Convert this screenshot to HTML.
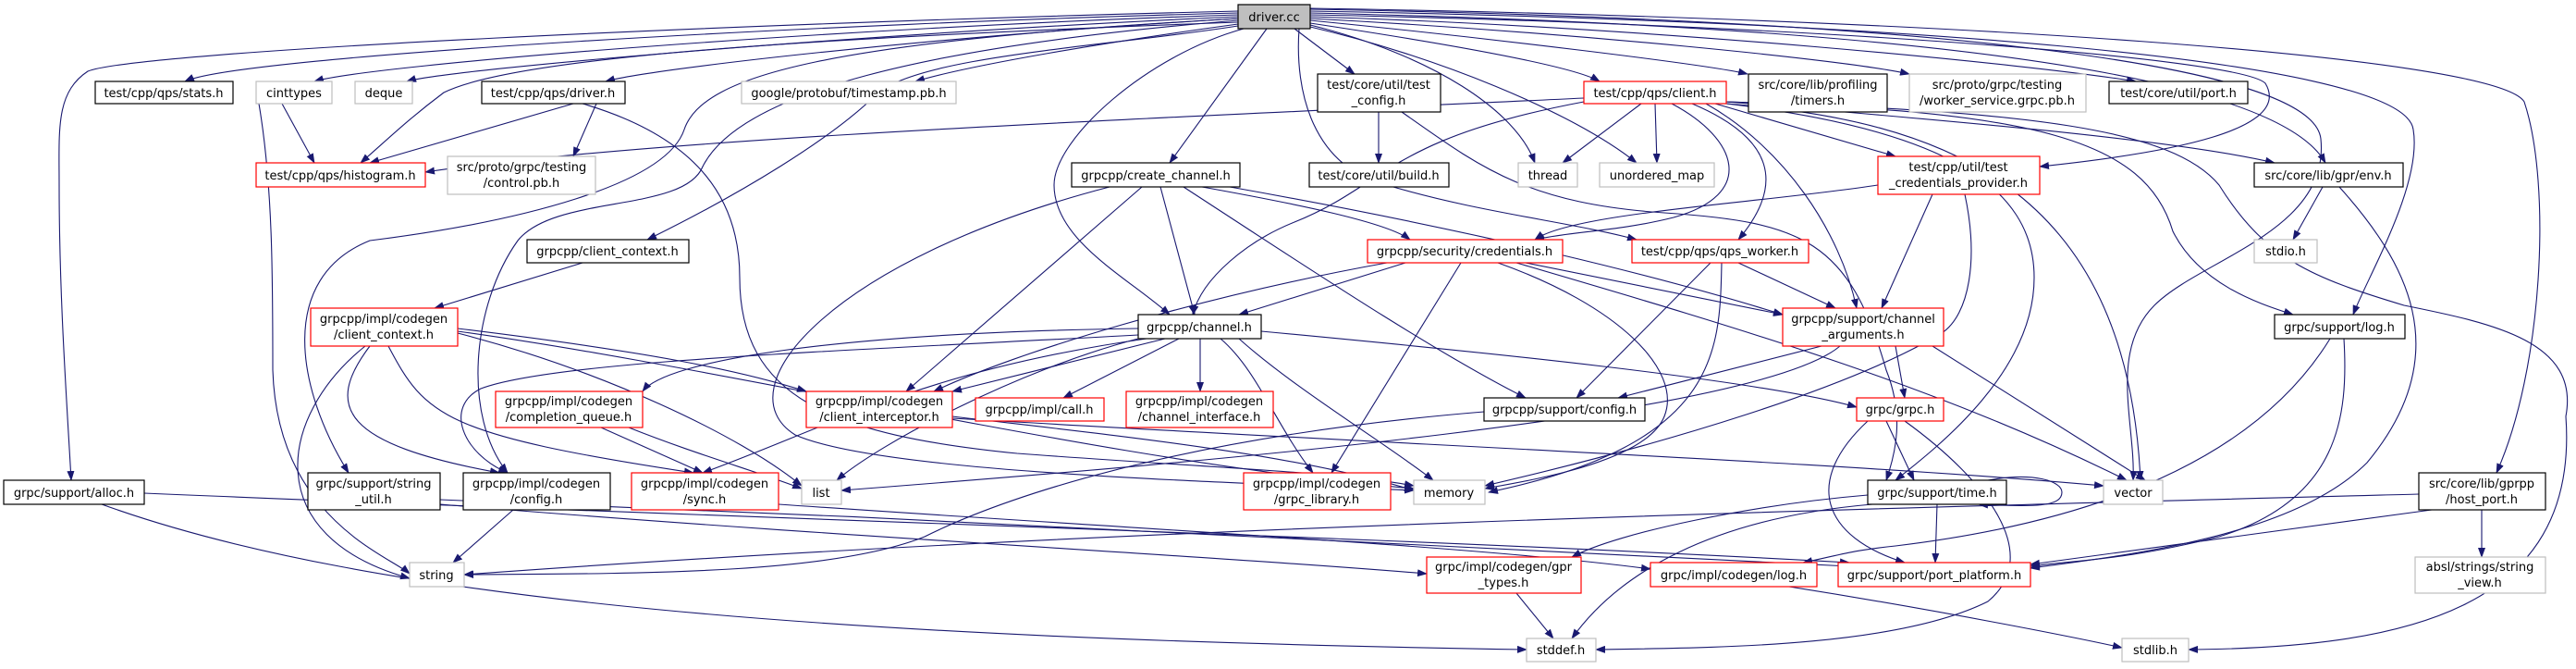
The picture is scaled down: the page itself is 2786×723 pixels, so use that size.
<!DOCTYPE html>
<html><head><meta charset="utf-8"><style>
html,body{margin:0;padding:0;background:#fff;}
svg{display:block;}
text{font-family:"DejaVu Sans","Liberation Sans",sans-serif;font-size:13px;fill:#000;}
.e{fill:none;stroke:#191970;stroke-width:1.1;marker-end:url(#a);}
.b{fill:#fff;stroke:#000;stroke-width:1.2;}
.r{fill:#fff;stroke:#ff0000;stroke-width:1.2;}
.g{fill:#fff;stroke:#bfbfbf;stroke-width:1.2;}
</style></head><body>
<svg width="2786" height="723" viewBox="0 0 2786 723" xmlns="http://www.w3.org/2000/svg">
<defs><marker id="a" markerUnits="userSpaceOnUse" markerWidth="11" markerHeight="8" refX="10" refY="4" orient="auto"><path d="M0,0 L11,4 L0,8 z" fill="#191970"/></marker></defs>
<g>
<path class="e" d="M1339,14 C900,25 260,60 200,88"/>
<path class="e" d="M1339,16 C900,30 400,70 340,88"/>
<path class="e" d="M1339,18 C950,35 480,75 440,88"/>
<path class="e" d="M1339,20 C1000,40 700,75 655,88"/>
<path class="e" d="M1339,26 C1200,45 1050,70 990,88"/>
<path class="e" d="M1339,12 C800,25 150,55 95,77 C60,100 64,140 64,200 C64,320 72,430 77,519"/>
<path class="e" d="M1339,24 C900,40 560,60 480,100 C440,130 420,150 390,176"/>
<path class="e" d="M1339,28 C1200,50 1000,60 950,100 C900,150 800,210 700,259"/>
<path class="e" d="M1339,20 C900,45 760,80 740,140 C720,200 560,240 400,260 C300,300 320,420 377,511"/>
<path class="e" d="M1339,22 C1000,50 800,100 760,180 C740,230 600,210 560,260 C510,330 500,450 549,511"/>
<path class="e" d="M1370,31 L1265,176"/>
<path class="e" d="M1345,31 C1240,60 1140,150 1140,200 C1140,260 1220,300 1265,340"/>
<path class="e" d="M1400,31 L1465,80"/>
<path class="e" d="M1417,25 C1550,45 1700,70 1730,88"/>
<path class="e" d="M1417,27 C1550,60 1640,120 1660,176"/>
<path class="e" d="M1417,29 C1550,60 1700,120 1770,176"/>
<path class="e" d="M1417,22 C1600,40 1850,70 1890,80"/>
<path class="e" d="M1417,20 C1700,35 2000,65 2065,80"/>
<path class="e" d="M1417,18 C1800,30 2200,70 2310,88"/>
<path class="e" d="M1417,16 C1900,25 2420,60 2450,90 C2480,140 2350,165 2206,180"/>
<path class="e" d="M1417,14 C1900,25 2450,60 2515,176"/>
<path class="e" d="M1417,12 C2000,22 2600,60 2610,140 C2620,200 2560,300 2545,340"/>
<path class="e" d="M1417,10 C2000,20 2500,60 2510,150 C2520,250 2380,280 2330,330 C2280,380 2310,460 2307,519"/>
<path class="e" d="M1417,9 C2100,20 2700,60 2730,110 C2760,200 2750,400 2700,511"/>
<path class="e" d="M1405,31 C1400,100 1420,180 1500,200 C1600,230 1700,240 1770,259"/>
<path class="e" d="M305,112 L340,176"/>
<path class="e" d="M280,112 C295,200 295,300 295,400 C300,560 420,600 443,620"/>
<path class="e" d="M620,112 L400,176"/>
<path class="e" d="M645,112 L620,169"/>
<path class="e" d="M630,112 C760,150 800,220 800,300 C800,430 900,470 1100,490 C1300,505 1450,510 1529,525"/>
<path class="e" d="M1713,106 C1200,130 700,150 460,186"/>
<path class="e" d="M1775,112 L1690,176"/>
<path class="e" d="M1790,112 L1792,176"/>
<path class="e" d="M1808,112 C1880,150 1900,210 1810,235 C1750,250 1700,250 1660,259"/>
<path class="e" d="M1830,112 C1920,150 1930,200 1880,259"/>
<path class="e" d="M1845,112 C1930,160 1990,250 2008,333"/>
<path class="e" d="M1855,112 L2050,169"/>
<path class="e" d="M1867,110 C2100,130 2350,150 2460,176"/>
<path class="e" d="M1867,110 C2200,120 2320,150 2350,250 C2380,310 2450,330 2480,340"/>
<path class="e" d="M1867,112 C2100,130 2300,200 2315,519"/>
<path class="e" d="M1867,112 C2100,140 2200,200 2200,300 C2200,400 2100,480 2050,519"/>
<path class="e" d="M1867,110 C2200,120 2350,140 2400,200 C2450,280 2500,300 2600,330 C2700,350 2790,370 2775,450 C2790,660 2600,700 2367,702"/>
<path class="e" d="M1713,110 C1500,150 1500,200 1400,240 C1350,260 1300,300 1290,340"/>
<path class="e" d="M1491,121 L1491,176"/>
<path class="e" d="M1516,121 C1600,180 1650,220 1800,230 C1950,240 2000,260 2040,400 C2060,450 2050,490 2040,519"/>
<path class="e" d="M1235,202 L980,423"/>
<path class="e" d="M1255,202 L1292,340"/>
<path class="e" d="M1300,202 C1400,220 1500,240 1525,259"/>
<path class="e" d="M1330,202 C1600,250 1800,300 1928,340"/>
<path class="e" d="M1280,202 C1400,280 1550,380 1650,430"/>
<path class="e" d="M1200,202 C900,280 780,420 860,470 C950,510 1300,520 1529,530"/>
<path class="e" d="M2031,200 C1900,220 1700,230 1660,259"/>
<path class="e" d="M2090,210 L2035,333"/>
<path class="e" d="M2125,210 C2140,280 2130,340 2100,360 C2000,420 1800,480 1606,525"/>
<path class="e" d="M1520,284 L1340,340"/>
<path class="e" d="M1500,284 C1300,320 1100,380 1010,423"/>
<path class="e" d="M1580,284 L1440,511"/>
<path class="e" d="M1650,284 L1928,340"/>
<path class="e" d="M1620,284 C1750,330 1820,400 1800,450 C1780,500 1650,520 1606,528"/>
<path class="e" d="M1640,284 C1900,360 2100,420 2300,519"/>
<path class="e" d="M1850,284 L1705,430"/>
<path class="e" d="M1880,284 L1985,333"/>
<path class="e" d="M1862,284 C1860,380 1860,480 1610,532"/>
<path class="e" d="M630,284 L470,333"/>
<path class="e" d="M495,355 C700,380 800,400 872,423"/>
<path class="e" d="M395,374 C300,450 280,580 443,625"/>
<path class="e" d="M400,374 C350,440 370,480 540,511"/>
<path class="e" d="M420,374 C460,450 480,470 750,511"/>
<path class="e" d="M495,360 C650,400 800,470 867,525"/>
<path class="e" d="M495,358 C800,400 1200,500 1529,528"/>
<path class="e" d="M1260,366 L1030,423"/>
<path class="e" d="M1275,366 L1150,430"/>
<path class="e" d="M1298,366 L1298,423"/>
<path class="e" d="M1231,355 C900,360 720,390 695,423"/>
<path class="e" d="M1320,366 C1360,400 1380,460 1420,511"/>
<path class="e" d="M1340,366 C1400,420 1500,480 1550,519"/>
<path class="e" d="M1364,358 C1600,380 1900,410 2008,440"/>
<path class="e" d="M1231,362 C900,380 600,390 520,420 C480,440 500,490 549,511"/>
<path class="e" d="M1240,366 C1000,400 900,460 760,511"/>
<path class="e" d="M1231,366 C1100,400 950,480 905,519"/>
<path class="e" d="M650,462 L760,511"/>
<path class="e" d="M680,462 C750,490 820,510 867,528"/>
<path class="e" d="M1030,450 C1200,470 1400,490 1529,530"/>
<path class="e" d="M1030,452 C1500,480 2000,500 2275,525"/>
<path class="e" d="M1970,374 L1750,430"/>
<path class="e" d="M2050,374 L2060,430"/>
<path class="e" d="M2090,374 L2320,519"/>
<path class="e" d="M1990,374 C1900,450 1300,500 910,530"/>
<path class="e" d="M1605,445 C1300,470 1100,530 1000,580 C900,620 700,620 502,621"/>
<path class="e" d="M2040,455 L2070,519"/>
<path class="e" d="M2020,455 C1950,520 1970,580 2060,608"/>
<path class="e" d="M2060,455 C2150,520 2210,600 2150,650 C2050,700 1850,700 1726,702"/>
<path class="e" d="M2150,519 C2200,510 2230,520 2230,532 C2230,548 2200,548 2140,545"/>
<path class="e" d="M2020,535 C1900,545 1750,575 1700,602"/>
<path class="e" d="M2095,545 L2093,608"/>
<path class="e" d="M2025,545 C1850,560 1750,620 1700,690"/>
<path class="e" d="M110,545 C400,650 900,690 1651,702"/>
<path class="e" d="M156,533 C800,560 1500,580 2000,608"/>
<path class="e" d="M476,540 C1000,560 1600,590 2000,612"/>
<path class="e" d="M476,545 C900,580 1300,600 1543,620"/>
<path class="e" d="M555,551 L490,608"/>
<path class="e" d="M842,545 C1200,570 1600,590 1785,615"/>
<path class="e" d="M1640,641 L1680,690"/>
<path class="e" d="M1935,634 C2100,660 2250,690 2295,700"/>
<path class="e" d="M2520,366 C2450,480 2300,560 2050,590 C2000,595 1990,600 1950,608"/>
<path class="e" d="M2535,366 C2540,450 2530,540 2400,580 C2300,605 2250,605 2196,612"/>
<path class="e" d="M2512,202 L2480,259"/>
<path class="e" d="M2530,202 C2600,280 2660,380 2560,500 C2480,580 2300,600 2196,614"/>
<path class="e" d="M2616,534 C2000,550 1200,570 502,621"/>
<path class="e" d="M2630,551 L2196,610"/>
<path class="e" d="M2684,551 L2684,602"/>
</g>
<g>
<rect x="1339" y="5" width="78" height="26" fill="#bfbfbf" stroke="#000" stroke-width="1.2"/><text x="1378" y="23" text-anchor="middle">driver.cc</text>
<rect class="b" x="103" y="88" width="149" height="24"/><text x="177" y="105" text-anchor="middle">test/cpp/qps/stats.h</text>
<rect class="g" x="277" y="88" width="82" height="24"/><text x="318" y="105" text-anchor="middle">cinttypes</text>
<rect class="g" x="384" y="88" width="62" height="24"/><text x="415" y="105" text-anchor="middle">deque</text>
<rect class="b" x="521" y="88" width="155" height="24"/><text x="598" y="105" text-anchor="middle">test/cpp/qps/driver.h</text>
<rect class="g" x="802" y="88" width="232" height="24"/><text x="918" y="105" text-anchor="middle">google/protobuf/timestamp.pb.h</text>
<rect class="b" x="1425" y="80" width="133" height="41"/><text x="1491" y="96" text-anchor="middle">test/core/util/test</text><text x="1491" y="113" text-anchor="middle">_config.h</text>
<rect class="r" x="1713" y="88" width="154" height="24"/><text x="1790" y="105" text-anchor="middle">test/cpp/qps/client.h</text>
<rect class="b" x="1891" y="80" width="150" height="41"/><text x="1966" y="96" text-anchor="middle">src/core/lib/profiling</text><text x="1966" y="113" text-anchor="middle">/timers.h</text>
<rect class="g" x="2065" y="80" width="191" height="41"/><text x="2160" y="96" text-anchor="middle">src/proto/grpc/testing</text><text x="2160" y="113" text-anchor="middle">/worker_service.grpc.pb.h</text>
<rect class="b" x="2281" y="88" width="150" height="24"/><text x="2356" y="105" text-anchor="middle">test/core/util/port.h</text>
<rect class="r" x="277" y="176" width="183" height="26"/><text x="368" y="194" text-anchor="middle">test/cpp/qps/histogram.h</text>
<rect class="g" x="484" y="169" width="160" height="41"/><text x="564" y="185" text-anchor="middle">src/proto/grpc/testing</text><text x="564" y="202" text-anchor="middle">/control.pb.h</text>
<rect class="b" x="1159" y="176" width="182" height="26"/><text x="1250" y="194" text-anchor="middle">grpcpp/create_channel.h</text>
<rect class="b" x="1416" y="176" width="151" height="26"/><text x="1491" y="194" text-anchor="middle">test/core/util/build.h</text>
<rect class="g" x="1642" y="176" width="64" height="26"/><text x="1674" y="194" text-anchor="middle">thread</text>
<rect class="g" x="1730" y="176" width="124" height="26"/><text x="1792" y="194" text-anchor="middle">unordered_map</text>
<rect class="r" x="2031" y="169" width="175" height="41"/><text x="2118" y="185" text-anchor="middle">test/cpp/util/test</text><text x="2118" y="202" text-anchor="middle">_credentials_provider.h</text>
<rect class="b" x="2438" y="176" width="161" height="26"/><text x="2518" y="194" text-anchor="middle">src/core/lib/gpr/env.h</text>
<rect class="b" x="570" y="259" width="175" height="25"/><text x="657" y="276" text-anchor="middle">grpcpp/client_context.h</text>
<rect class="r" x="1479" y="259" width="211" height="25"/><text x="1584" y="276" text-anchor="middle">grpcpp/security/credentials.h</text>
<rect class="r" x="1765" y="259" width="191" height="25"/><text x="1860" y="276" text-anchor="middle">test/cpp/qps/qps_worker.h</text>
<rect class="g" x="2438" y="259" width="68" height="25"/><text x="2472" y="276" text-anchor="middle">stdio.h</text>
<rect class="r" x="336" y="333" width="159" height="41"/><text x="415" y="349" text-anchor="middle">grpcpp/impl/codegen</text><text x="415" y="366" text-anchor="middle">/client_context.h</text>
<rect class="b" x="1231" y="340" width="133" height="26"/><text x="1297" y="358" text-anchor="middle">grpcpp/channel.h</text>
<rect class="r" x="1928" y="333" width="174" height="41"/><text x="2015" y="349" text-anchor="middle">grpcpp/support/channel</text><text x="2015" y="366" text-anchor="middle">_arguments.h</text>
<rect class="b" x="2460" y="340" width="141" height="26"/><text x="2530" y="358" text-anchor="middle">grpc/support/log.h</text>
<rect class="r" x="536" y="423" width="159" height="39"/><text x="615" y="438" text-anchor="middle">grpcpp/impl/codegen</text><text x="615" y="455" text-anchor="middle">/completion_queue.h</text>
<rect class="r" x="872" y="423" width="158" height="39"/><text x="951" y="438" text-anchor="middle">grpcpp/impl/codegen</text><text x="951" y="455" text-anchor="middle">/client_interceptor.h</text>
<rect class="r" x="1055" y="430" width="139" height="25"/><text x="1124" y="447" text-anchor="middle">grpcpp/impl/call.h</text>
<rect class="r" x="1218" y="423" width="159" height="39"/><text x="1297" y="438" text-anchor="middle">grpcpp/impl/codegen</text><text x="1297" y="455" text-anchor="middle">/channel_interface.h</text>
<rect class="b" x="1605" y="430" width="174" height="25"/><text x="1692" y="447" text-anchor="middle">grpcpp/support/config.h</text>
<rect class="r" x="2008" y="430" width="94" height="25"/><text x="2055" y="447" text-anchor="middle">grpc/grpc.h</text>
<rect class="b" x="4" y="519" width="152" height="26"/><text x="80" y="537" text-anchor="middle">grpc/support/alloc.h</text>
<rect class="b" x="333" y="511" width="143" height="40"/><text x="404" y="527" text-anchor="middle">grpc/support/string</text><text x="404" y="544" text-anchor="middle">_util.h</text>
<rect class="b" x="501" y="511" width="159" height="40"/><text x="580" y="527" text-anchor="middle">grpcpp/impl/codegen</text><text x="580" y="544" text-anchor="middle">/config.h</text>
<rect class="r" x="683" y="511" width="159" height="40"/><text x="762" y="527" text-anchor="middle">grpcpp/impl/codegen</text><text x="762" y="544" text-anchor="middle">/sync.h</text>
<rect class="g" x="867" y="519" width="43" height="26"/><text x="888" y="537" text-anchor="middle">list</text>
<rect class="r" x="1345" y="511" width="159" height="40"/><text x="1424" y="527" text-anchor="middle">grpcpp/impl/codegen</text><text x="1424" y="544" text-anchor="middle">/grpc_library.h</text>
<rect class="g" x="1529" y="519" width="77" height="26"/><text x="1567" y="537" text-anchor="middle">memory</text>
<rect class="b" x="2020" y="519" width="150" height="26"/><text x="2095" y="537" text-anchor="middle">grpc/support/time.h</text>
<rect class="g" x="2275" y="519" width="64" height="26"/><text x="2307" y="537" text-anchor="middle">vector</text>
<rect class="b" x="2616" y="511" width="137" height="40"/><text x="2684" y="527" text-anchor="middle">src/core/lib/gprpp</text><text x="2684" y="544" text-anchor="middle">/host_port.h</text>
<rect class="g" x="443" y="608" width="59" height="26"/><text x="472" y="626" text-anchor="middle">string</text>
<rect class="r" x="1543" y="602" width="167" height="39"/><text x="1626" y="617" text-anchor="middle">grpc/impl/codegen/gpr</text><text x="1626" y="634" text-anchor="middle">_types.h</text>
<rect class="r" x="1785" y="608" width="180" height="26"/><text x="1875" y="626" text-anchor="middle">grpc/impl/codegen/log.h</text>
<rect class="r" x="1988" y="608" width="208" height="26"/><text x="2092" y="626" text-anchor="middle">grpc/support/port_platform.h</text>
<rect class="g" x="2612" y="602" width="141" height="39"/><text x="2682" y="617" text-anchor="middle">absl/strings/string</text><text x="2682" y="634" text-anchor="middle">_view.h</text>
<rect class="g" x="1651" y="690" width="75" height="25"/><text x="1688" y="707" text-anchor="middle">stddef.h</text>
<rect class="g" x="2295" y="690" width="72" height="25"/><text x="2331" y="707" text-anchor="middle">stdlib.h</text>
</g>
</svg>
</body></html>
